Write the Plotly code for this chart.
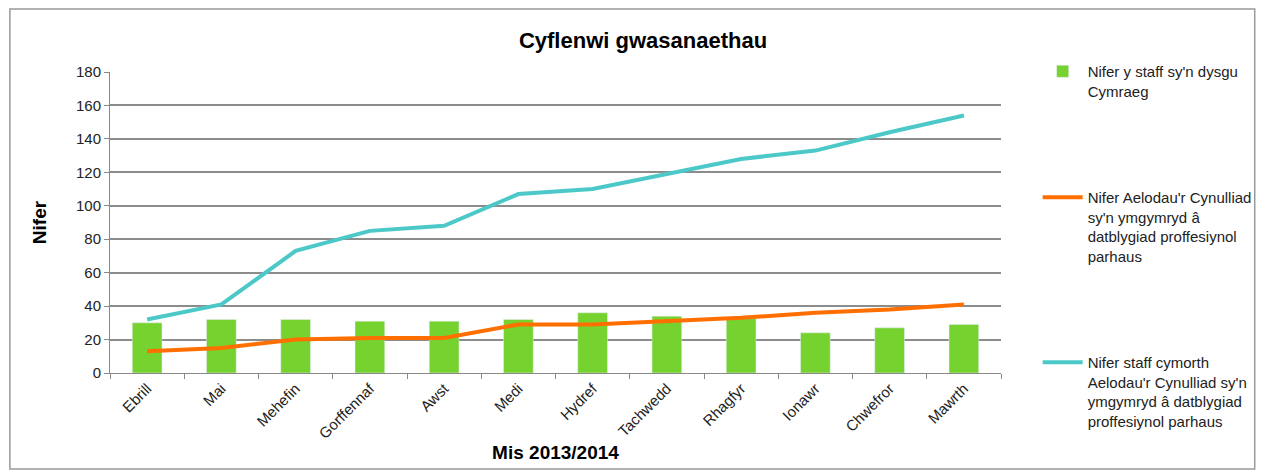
import plotly.graph_objects as go

# months of the reporting year
months = ["Ebrill", "Mai", "Mehefin", "Gorffennaf", "Awst", "Medi",
          "Hydref", "Tachwedd", "Rhagfyr", "Ionawr", "Chwefror", "Mawrth"]

# series
staff_learning = [30, 32, 32, 31, 31, 32, 36, 34, 33, 24, 27, 29]
members_cpd = [13, 15, 20, 21, 21, 29, 29, 31, 33, 36, 38, 41]
support_staff_cpd = [32, 41, 73, 85, 88, 107, 110, 119, 128, 133, 144, 154]

names = ["Nifer y staff sy'n dysgu<br>Cymraeg",
         "Nifer Aelodau'r Cynulliad<br>sy'n ymgymryd â<br>datblygiad proffesiynol<br>parhaus",
         "Nifer staff cymorth<br>Aelodau'r Cynulliad sy'n<br>ymgymryd â datblygiad<br>proffesiynol parhaus"]

font = "Liberation Sans"

fig = go.Figure()
fig.add_trace(go.Bar(x=months, y=staff_learning, name=names[0], legendgroup="a",
                     marker_color="#76D22E"))
fig.add_trace(go.Scatter(x=months, y=members_cpd, name=names[1], mode="lines",
                         legendgroup="b", line=dict(color="#FF6F00", width=4)))
fig.add_trace(go.Scatter(x=months, y=support_staff_cpd, name=names[2], mode="lines",
                         legendgroup="c", line=dict(color="#4CC8C8", width=4)))

L, R, T, B = 102, 260, 64, 99
W, H = 1261, 464
pw, ph = W - L - R, H - T - B

fig.update_layout(
    width=W, height=H,
    margin=dict(l=L, r=R, t=T, b=B),
    paper_bgcolor="white", plot_bgcolor="white",
    font=dict(family=font, size=15, color="#222"),
    bargap=0.6,
    showlegend=True,
    title=dict(text="<b>Cyflenwi gwasanaethau</b>", x=635 / W, xanchor="center",
               y=1 - 32 / H, yanchor="middle", font=dict(size=22, color="black")),
    legend=dict(x=(1038 - L) / pw, y=1 + (T - 47) / ph, xanchor="left", yanchor="top",
                font=dict(size=15, color="#222"), tracegroupgap=84, valign="top",
                itemwidth=40, traceorder="grouped", maxheight=460,
                bgcolor="rgba(0,0,0,0)"),
    xaxis=dict(showline=True, linecolor="#888", ticks="outside", tickson="boundaries",
               ticklen=5, tickcolor="#888", tickangle=-45,
               title=dict(text="<b>Mis 2013/2014</b>", font=dict(size=19, color="black"),
                          standoff=4)),
    yaxis=dict(range=[0, 180], dtick=20, showline=True, linecolor="#888",
               gridcolor="#8c8c8c", gridwidth=1.5, ticks="outside", ticklen=5,
               tickcolor="#888", zeroline=False,
               title=dict(text="<b>Nifer</b>", font=dict(size=19, color="black"), standoff=24)),
    shapes=[dict(type="rect", xref="paper", yref="paper", layer="above",
                 x0=(1 - L) / pw, x1=(1257 - L) / pw,
                 y0=1 + (T - 461) / ph, y1=1 + (T - 1) / ph,
                 line=dict(color="#999", width=1.5))],
)

fig.write_html("out.html")
